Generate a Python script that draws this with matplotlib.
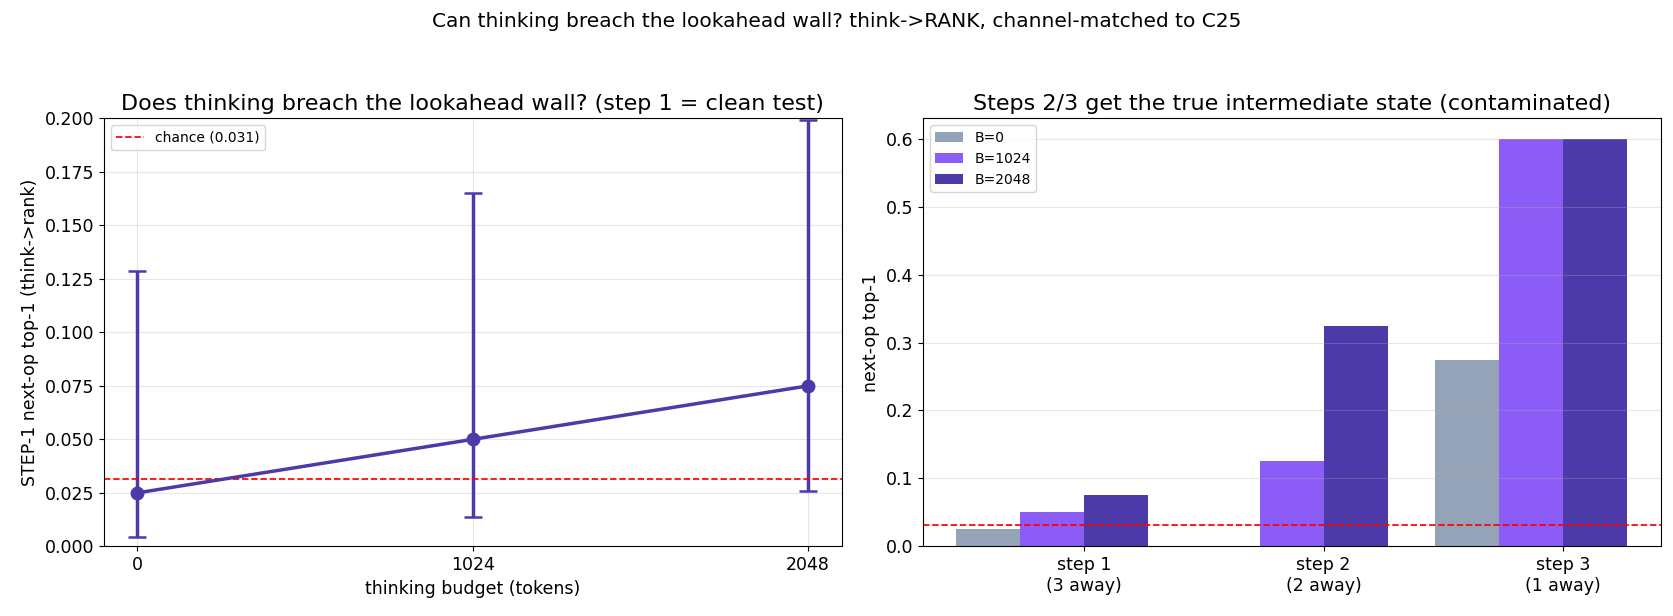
import matplotlib
matplotlib.use("Agg")
import matplotlib.pyplot as plt
import numpy as np

# left panel: step-1 accuracy vs thinking budget
budgets = [0, 1024, 2048]
step1_acc = [0.025, 0.050, 0.075]
ci_low = [0.0044, 0.0138, 0.0258]
ci_high = [0.1288, 0.1650, 0.1990]
chance = 0.03125

# right panel: accuracy per step and budget
steps = ["step 1\n(3 away)", "step 2\n(2 away)", "step 3\n(1 away)"]
acc_b0 = [0.025, 0.0, 0.275]
acc_b1024 = [0.050, 0.125, 0.600]
acc_b2048 = [0.075, 0.325, 0.600]
series_names = ["B=0", "B=1024", "B=2048"]

DARK = "#4b3aa8"
colors = ["#94a3b8", "#8b5cf6", DARK]

fig, (ax1, ax2) = plt.subplots(1, 2, figsize=(16.74, 6.16), dpi=100)

acc = np.array(step1_acc)
yerr = [acc - np.array(ci_low), np.array(ci_high) - acc]
ax1.errorbar(budgets, acc, yerr=yerr, color=DARK, marker="o", markersize=9,
             linewidth=2.5, elinewidth=2.5, capsize=6.5, capthick=1.8)
ax1.axhline(chance, color="red", linestyle="--", linewidth=1.25,
            label="chance (%.3f)" % chance)
ax1.set_xticks(budgets)
ax1.set_ylim(0, 0.2)
ax1.set_xlabel("thinking budget (tokens)", fontsize=12.5)
ax1.set_ylabel("STEP-1 next-op top-1 (think->rank)", fontsize=12.5)
ax1.set_title("Does thinking breach the lookahead wall? (step 1 = clean test)", fontsize=16)
ax1.legend(loc="upper left", fontsize=10)
ax1.grid(True, alpha=0.3)
ax1.tick_params(labelsize=12.5)

x = np.arange(len(steps))
w = 0.8 / 3
for i, vals in enumerate([acc_b0, acc_b1024, acc_b2048]):
    ax2.bar(x + (i - 1.5) * w, vals, width=w, color=colors[i], label=series_names[i])
ax2.axhline(chance, color="red", linestyle="--", linewidth=1.25)
ax2.set_xticks(x)
ax2.set_xticklabels(steps)
ax2.set_ylabel("next-op top-1", fontsize=12.5)
ax2.set_title("Steps 2/3 get the true intermediate state (contaminated)", fontsize=16)
ax2.legend(loc="upper left", fontsize=10)
ax2.grid(True, axis="y", alpha=0.3)
ax2.tick_params(labelsize=12.5)

fig.suptitle("Can thinking breach the lookahead wall? think->RANK, channel-matched to C25", fontsize=14.5)
fig.subplots_adjust(left=0.062, right=0.992, bottom=0.113, top=0.808, wspace=0.11)
fig.savefig("out.png", dpi=100)
